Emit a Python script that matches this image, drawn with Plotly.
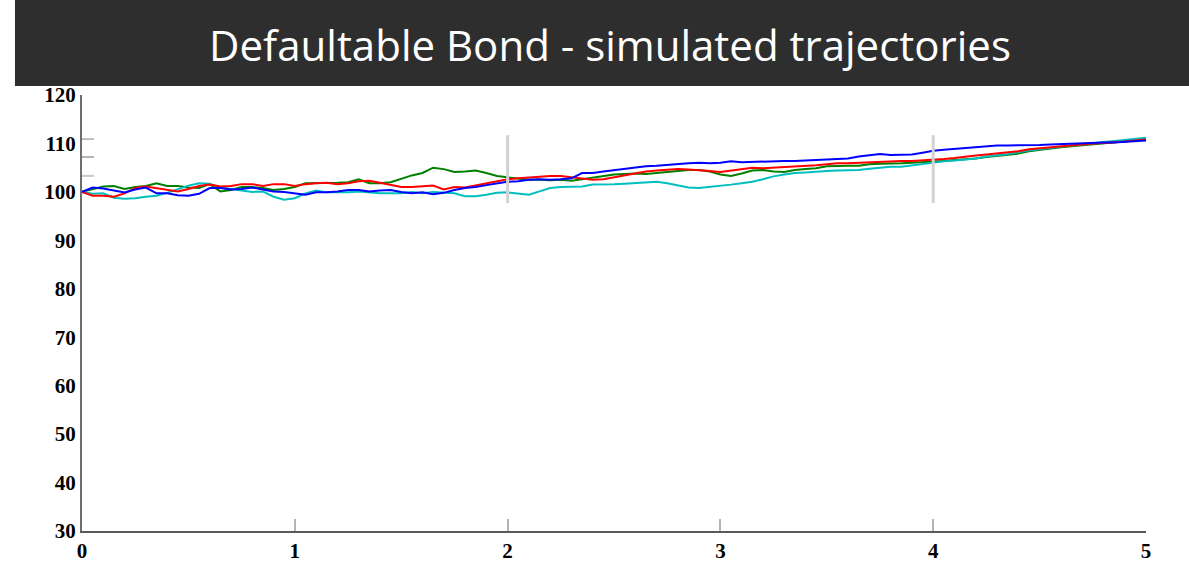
import plotly.graph_objects as go

# Time grid (years) and the four simulated price paths, sampled every 0.05
t = [round(0.05 * i, 2) for i in range(101)]

path_blue = [
    100.0, 100.9, 100.7, 100.3, 99.9, 100.5, 100.9, 99.7, 99.7, 99.3,
    99.2, 99.6, 100.8, 100.8, 100.5, 100.6, 100.9, 100.5, 100.1, 100.0,
    99.7, 99.4, 99.9, 99.9, 100.1, 100.4, 100.4, 100.1, 100.3, 100.4,
    100.0, 99.7, 99.9, 99.5, 99.8, 100.4, 100.8, 101.0, 101.4, 101.8,
    102.1, 102.2, 102.5, 102.6, 102.5, 102.6, 102.8, 103.9, 103.9, 104.2,
    104.5, 104.8, 105.0, 105.3, 105.4, 105.6, 105.7, 105.9, 106.0, 105.9,
    106.0, 106.3, 106.1, 106.2, 106.2, 106.3, 106.4, 106.4, 106.5, 106.6,
    106.6, 106.7, 106.9, 107.3, 107.6, 107.8, 107.6, 107.6, 107.7, 108.1,
    108.5, 108.7, 108.9, 109.0, 109.2, 109.5, 109.6, 109.6, 109.6, 109.6,
    109.7, 109.8, 109.9, 110.0, 110.0, 110.1, 110.2, 110.2, 110.3, 110.4,
    110.6,
]

path_red = [
    100.0, 99.2, 99.2, 99.0, 99.7, 100.8, 101.1, 100.8, 100.4, 100.1,
    100.6, 101.2, 101.5, 101.1, 101.2, 101.6, 101.6, 101.2, 101.6, 101.6,
    101.2, 101.6, 101.8, 101.9, 101.6, 101.8, 102.2, 102.3, 101.9, 101.5,
    101.0, 101.0, 101.1, 101.3, 100.5, 101.0, 100.9, 101.3, 101.8, 102.1,
    102.6, 102.8, 103.0, 103.2, 103.3, 103.3, 103.0, 102.8, 102.5, 102.6,
    103.0, 103.3, 103.7, 104.2, 104.4, 104.5, 104.7, 104.6, 104.5, 104.3,
    104.1, 104.4, 104.7, 105.0, 104.9, 105.0, 105.2, 105.3, 105.4, 105.5,
    105.7, 105.9, 105.9, 106.0, 106.1, 106.3, 106.3, 106.4, 106.4, 106.5,
    106.6, 106.8, 107.0, 107.3, 107.5, 107.7, 107.9, 108.1, 108.4, 108.8,
    109.0, 109.3, 109.5, 109.7, 109.9, 110.0, 110.1, 110.2, 110.4, 110.6,
    110.8,
]

path_green = [
    100.0, 100.6, 101.1, 101.2, 100.6, 101.0, 101.2, 101.8, 101.2, 101.2,
    100.9, 100.8, 101.6, 100.1, 100.4, 101.0, 101.0, 100.8, 100.4, 100.6,
    101.0, 101.8, 101.8, 101.8, 101.9, 102.0, 102.6, 101.8, 101.8, 102.0,
    102.7, 103.4, 103.9, 105.0, 104.7, 104.1, 104.2, 104.4, 103.9, 103.3,
    103.0, 102.8, 102.5, 102.5, 102.4, 102.5, 102.3, 102.6, 102.9, 103.3,
    103.6, 103.7, 103.8, 103.7, 103.9, 104.1, 104.4, 104.5, 104.5, 104.2,
    103.6, 103.3, 103.8, 104.4, 104.5, 104.2, 104.1, 104.5, 104.7, 104.9,
    105.3, 105.4, 105.4, 105.4, 105.7, 105.8, 105.8, 105.9, 106.0, 106.1,
    106.3, 106.4, 106.6, 106.7, 106.9, 107.2, 107.4, 107.6, 107.9, 108.4,
    108.7, 108.9, 109.2, 109.4, 109.6, 109.8, 110.0, 110.2, 110.4, 110.6,
    110.8,
]

path_cyan = [
    100.0, 99.6, 99.7, 98.8, 98.6, 98.7, 99.0, 99.2, 99.8, 100.6,
    101.3, 101.8, 101.7, 100.9, 100.6, 100.3, 100.0, 100.1, 99.0, 98.4,
    98.7, 99.7, 100.3, 99.9, 99.9, 99.9, 100.1, 99.9, 99.7, 99.7,
    99.7, 100.0, 99.7, 100.0, 99.9, 99.7, 99.1, 99.1, 99.4, 99.8,
    99.9, 99.7, 99.4, 100.1, 100.8, 101.0, 101.0, 101.1, 101.5, 101.5,
    101.6, 101.7, 101.8, 101.9, 102.1, 101.8, 101.3, 100.9, 100.8, 101.0,
    101.2, 101.5, 101.8, 102.1, 102.6, 103.2, 103.6, 103.9, 104.0, 104.2,
    104.3, 104.4, 104.4, 104.5, 104.8, 105.0, 105.2, 105.2, 105.5, 105.8,
    106.1, 106.3, 106.5, 106.7, 106.9, 107.3, 107.5, 107.8, 108.2, 108.6,
    108.8, 109.1, 109.4, 109.6, 109.8, 110.1, 110.3, 110.5, 110.7, 110.9,
    111.2,
]

paths = [
    (path_green, "rgb(0,128,0)"),
    (path_cyan, "rgb(0,191,191)"),
    (path_red, "rgb(255,0,0)"),
    (path_blue, "rgb(0,0,255)"),
]

x_ticks = [0, 1, 2, 3, 4, 5]
y_ticks = [30, 40, 50, 60, 70, 80, 90, 100, 110, 120]

fig = go.Figure()
for values, colour in paths:
    fig.add_trace(go.Scatter(
        x=t, y=values, mode="lines",
        line=dict(color=colour, width=2),
        showlegend=False, hoverinfo="skip",
    ))

tick_font = dict(family="Liberation Serif", size=21, color="black", weight="bold")

fig.update_layout(
    width=1189, height=564,
    margin=dict(l=82, r=43, t=95, b=33),
    paper_bgcolor="white", plot_bgcolor="white",
    xaxis=dict(
        range=[0, 5], tickvals=x_ticks, ticktext=[str(v) for v in x_ticks],
        showgrid=False, zeroline=False, automargin=False,
        showline=True, linecolor="#5a5a5a", linewidth=2,
        ticks="inside", ticklen=12, tickwidth=2, tickcolor="#b4b4b4",
        tickfont=tick_font,
    ),
    yaxis=dict(
        range=[30, 120], tickvals=y_ticks, ticktext=[str(v) for v in y_ticks],
        showgrid=False, zeroline=False, automargin=False,
        showline=True, linecolor="#6e6e6e", linewidth=2,
        ticks="", tickfont=tick_font,
    ),
    shapes=[
        # dark title banner
        dict(type="rect", xref="paper", yref="paper",
             x0=-0.063, x1=1.05, y0=1.0206, y1=1.25,
             fillcolor="rgb(46,46,46)", line=dict(width=0), layer="above"),
        # light vertical marks at t = 2 and t = 4
        dict(type="line", xref="x", yref="y", x0=2, x1=2, y0=97.7, y1=111.7,
             line=dict(color="#d2d2d2", width=3)),
        dict(type="line", xref="x", yref="y", x0=4, x1=4, y0=97.7, y1=111.7,
             line=dict(color="#d2d2d2", width=3)),
        # small marks on the price axis
        dict(type="line", xref="x", yref="y", x0=0, x1=0.056, y0=110.9, y1=110.9,
             line=dict(color="#a8a8a8", width=1.5)),
        dict(type="line", xref="x", yref="y", x0=0, x1=0.056, y0=107.2, y1=107.2,
             line=dict(color="#b4b4b4", width=2)),
        dict(type="line", xref="x", yref="y", x0=0, x1=0.056, y0=103.3, y1=103.3,
             line=dict(color="#c8c8c8", width=2)),
    ],
    annotations=[
        dict(text="Defaultable Bond - simulated trajectories",
             xref="paper", yref="paper", x=0.496, y=1.1147,
             xanchor="center", yanchor="middle", showarrow=False,
             font=dict(family="Open Sans", size=42, color="white")),
    ],
)

fig.write_html("out.html")
